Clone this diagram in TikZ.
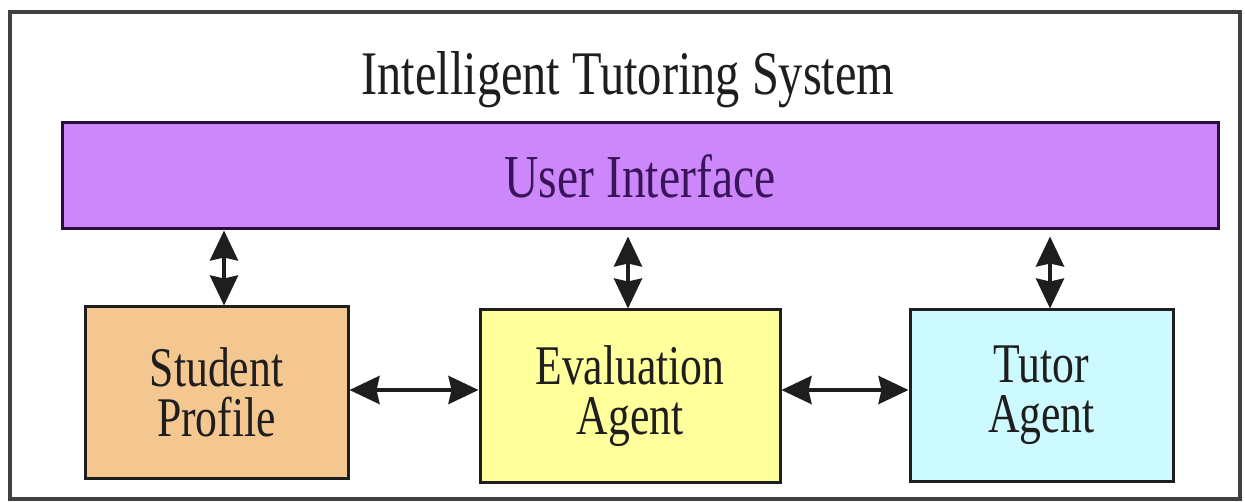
\documentclass[tikz,border=0pt]{standalone}
\usepackage{fontspec}
\setmainfont{Liberation Serif}[FakeStretch=0.78]
\usetikzlibrary{arrows.meta}
\definecolor{uifill}{HTML}{CC88FA}
\definecolor{uitext}{HTML}{3A1458}
\definecolor{spfill}{HTML}{F5C790}
\definecolor{eafill}{HTML}{FFFF9C}
\definecolor{tafill}{HTML}{CCFAFF}
\definecolor{ink}{HTML}{1E1E1E}
\tikzset{
  box/.style={draw=ink, line width=3pt, inner sep=0pt, align=center,
    text=ink, font=\fontsize{56}{50}\selectfont},
  arr/.style={draw=ink, line width=4pt, {Stealth[length=30pt,width=28pt,inset=3pt]}-{Stealth[length=30pt,width=28pt,inset=3pt]}},
}
\begin{document}
\begin{tikzpicture}[x=1pt,y=-1pt]
\useasboundingbox (0,0) rectangle (1245,502);
\fill[white] (0,0) rectangle (1245,502);
\node[draw=ink!85, line width=3.5pt, minimum width=1230pt, minimum height=487pt, inner sep=0pt] (frame) at (625,255.5) {};
\node[text=ink, font=\fontsize{62}{62}\selectfont] (title) at (628,80) {Intelligent Tutoring System};
\node[box, fill=uifill, text=uitext, draw=uitext!70!black, minimum width=1156pt, minimum height=106pt, font=\fontsize{61}{61}\selectfont] (ui) at (640,176) {User Interface};
\node[box, fill=spfill, minimum width=263pt, minimum height=171pt] (sp) at (216.5,392.5) {Student\\Profile};
\node[box, fill=eafill, minimum width=300pt, minimum height=172pt] (ea) at (630,396) {Evaluation\\Agent};
\node[box, fill=tafill, minimum width=263pt, minimum height=171pt] (ta) at (1041.5,395.5) {Tutor\\Agent};
\coordinate (a1) at (224,0);
\coordinate (a2) at (628,0);
\coordinate (a3) at (1050,0);
\coordinate (h) at (0,390);
\draw[arr] (ui.south -| a1) -- (sp.north -| a1);
\draw[arr, shorten <=6pt] (ui.south -| a2) -- (ea.north -| a2);
\draw[arr, shorten <=6pt] (ui.south -| a3) -- (ta.north -| a3);
\draw[arr] (sp.east |- h) -- (ea.west |- h);
\draw[arr] (ea.east |- h) -- (ta.west |- h);
\end{tikzpicture}
\end{document}
